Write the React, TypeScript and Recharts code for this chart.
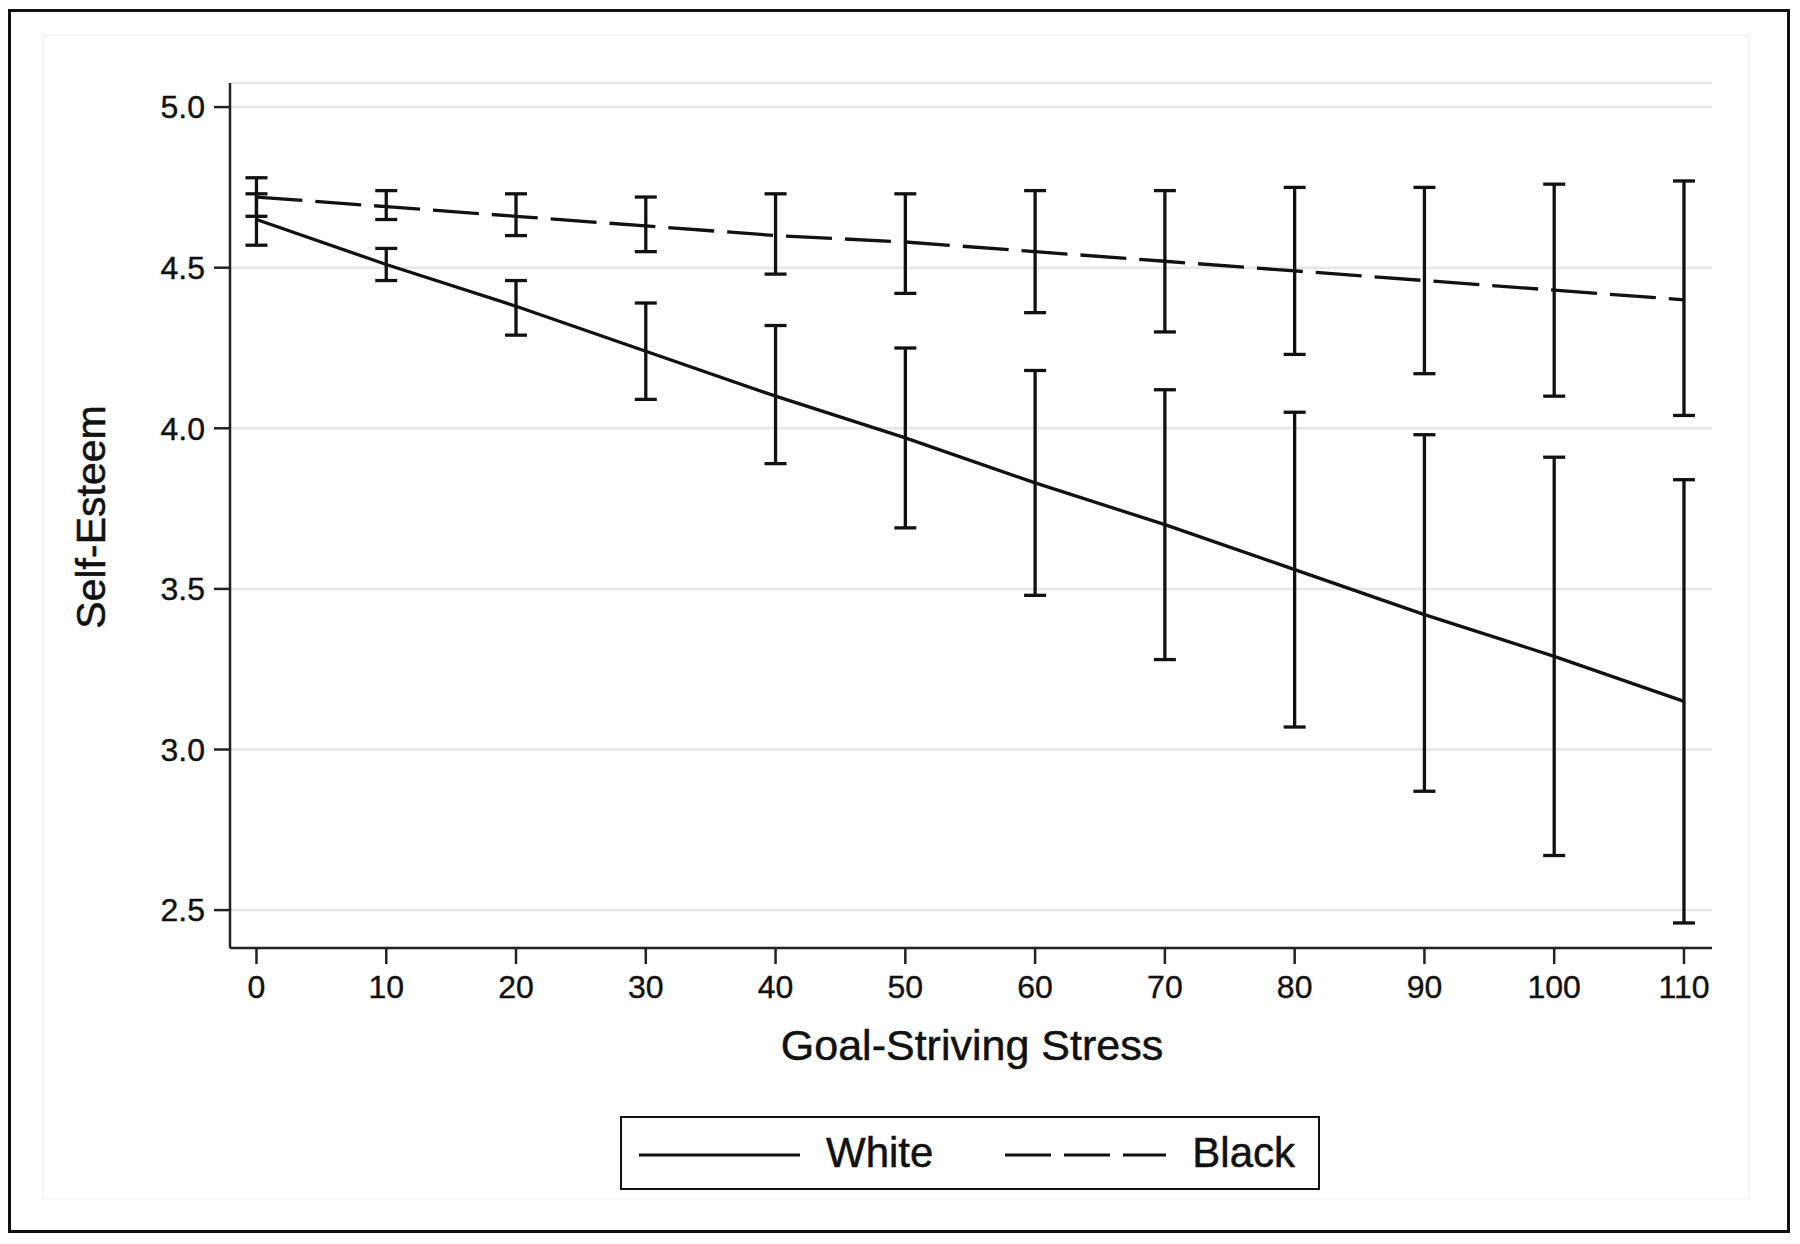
import { LineChart, Line, XAxis, YAxis, CartesianGrid, ErrorBar, Legend, Label } from 'recharts';

const FONT = '"Liberation Sans", Arial, Helvetica, sans-serif';
const INK = '#111';

// Goal-striving stress levels (x axis)
const stressLevels = [0, 10, 20, 30, 40, 50, 60, 70, 80, 90, 100, 110];

// Predicted self-esteem with 95% CI, White respondents
const whiteMean = [4.65, 4.51, 4.38, 4.24, 4.1, 3.97, 3.83, 3.7, 3.56, 3.42, 3.29, 3.15];
const whiteLow = [4.57, 4.46, 4.29, 4.09, 3.89, 3.69, 3.48, 3.28, 3.07, 2.87, 2.67, 2.46];
const whiteHigh = [4.73, 4.56, 4.46, 4.39, 4.32, 4.25, 4.18, 4.12, 4.05, 3.98, 3.91, 3.84];

// Predicted self-esteem with 95% CI, Black respondents
const blackMean = [4.72, 4.69, 4.66, 4.63, 4.6, 4.58, 4.55, 4.52, 4.49, 4.46, 4.43, 4.4];
const blackLow = [4.66, 4.65, 4.6, 4.55, 4.48, 4.42, 4.36, 4.3, 4.23, 4.17, 4.1, 4.04];
const blackHigh = [4.78, 4.74, 4.73, 4.72, 4.73, 4.73, 4.74, 4.74, 4.75, 4.75, 4.76, 4.77];

const yTicks = [2.5, 3.0, 3.5, 4.0, 4.5, 5.0];
const xTicks = stressLevels;

const legendItems = [
  { name: 'White', dash: undefined as string | undefined },
  { name: 'Black', dash: '46 13' },
];

const data = stressLevels.map((x, i) => ({
  x,
  white: whiteMean[i],
  whiteErr: [whiteMean[i] - whiteLow[i], whiteHigh[i] - whiteMean[i]],
  black: blackMean[i],
  blackErr: [blackMean[i] - blackLow[i], blackHigh[i] - blackMean[i]],
}));

function LegendBox() {
  return (
    <div
      style={{
        width: 700,
        height: 74,
        boxSizing: 'border-box',
        border: `2px solid ${INK}`,
        background: '#fff',
        display: 'flex',
        alignItems: 'center',
        paddingLeft: 17,
        fontFamily: FONT,
        fontSize: 42,
        color: INK,
        WebkitTextStroke: '0.5px #111',
      }}
    >
      {legendItems.map((item, i) => (
        <div key={item.name} style={{ display: 'flex', alignItems: 'center', marginLeft: i === 0 ? 0 : 72 }}>
          <svg width={161} height={10} style={{ display: 'block', marginTop: 4 }}>
            <line x1={0} y1={5} x2={161} y2={5} stroke={INK} strokeWidth={3.2} strokeDasharray={item.dash} />
          </svg>
          <span style={{ marginLeft: 26, lineHeight: 1 }}>{item.name}</span>
        </div>
      ))}
    </div>
  );
}

export default function App() {
  const tickStyle = { fontFamily: FONT, fontSize: 32, fill: INK, stroke: INK, strokeWidth: 0.4 };
  return (
    <div style={{ position: 'relative', width: 1800, height: 1244, background: '#fff' }}>
      <style>{'body{margin:0;}'}</style>
      {/* outer frame */}
      <div
        style={{
          position: 'absolute',
          left: 8,
          top: 9,
          width: 1782,
          height: 1224,
          boxSizing: 'border-box',
          border: `3px solid ${INK}`,
        }}
      />
      {/* faint graph region */}
      <div
        style={{
          position: 'absolute',
          left: 42,
          top: 34,
          width: 1708,
          height: 1166,
          boxSizing: 'border-box',
          border: '2px solid #f6f6f6',
        }}
      />
      <div style={{ position: 'absolute', left: 0, top: 0 }}>
        <LineChart width={1800} height={1244} data={data} margin={{ top: 83, right: 88, bottom: 196, left: 120 }}>
          <CartesianGrid horizontal vertical={false} stroke="#e6e6e6" strokeWidth={2.5} />
          <XAxis
            type="number"
            dataKey="x"
            domain={[-2.04, 112.16]}
            ticks={xTicks}
            allowDataOverflow
            height={100}
            tickSize={16}
            tickMargin={11}
            tick={tickStyle}
            axisLine={{ stroke: '#222', strokeWidth: 2.5 }}
            tickLine={{ stroke: '#222', strokeWidth: 2.5 }}
          >
            <Label
              content={() => (
                <text
                  x={972}
                  y={1060}
                  textAnchor="middle"
                  fontFamily={FONT}
                  fontSize={43}
                  fill={INK}
                  stroke={INK}
                  strokeWidth={0.5}
                >
                  Goal-Striving Stress
                </text>
              )}
            />
          </XAxis>
          <YAxis
            type="number"
            domain={[2.382, 5.075]}
            ticks={yTicks}
            allowDataOverflow
            width={110}
            tickSize={16}
            tickMargin={9}
            tick={tickStyle}
            tickFormatter={(v: number) => v.toFixed(1)}
            axisLine={{ stroke: '#222', strokeWidth: 2.5 }}
            tickLine={{ stroke: '#222', strokeWidth: 2.5 }}
          >
            <Label
              content={() => (
                <text
                  x={105}
                  y={517}
                  transform="rotate(-90, 105, 517)"
                  textAnchor="middle"
                  fontFamily={FONT}
                  fontSize={41}
                  fill={INK}
                  stroke={INK}
                  strokeWidth={0.5}
                >
                  Self-Esteem
                </text>
              )}
            />
          </YAxis>
          <Line
            type="linear"
            dataKey="white"
            name="White"
            stroke={INK}
            strokeWidth={3.3}
            dot={false}
            activeDot={false}
            isAnimationActive={false}
          >
            <ErrorBar dataKey="whiteErr" direction="y" width={11} stroke={INK} strokeWidth={3.3} />
          </Line>
          <Line
            type="linear"
            dataKey="black"
            name="Black"
            stroke={INK}
            strokeWidth={3.3}
            strokeDasharray="46 13"
            dot={false}
            activeDot={false}
            isAnimationActive={false}
          >
            <ErrorBar dataKey="blackErr" direction="y" width={11} stroke={INK} strokeWidth={3.3} />
          </Line>
          <Legend
            layout="horizontal"
            verticalAlign="middle"
            align="center"
            wrapperStyle={{ left: 620, top: 1116, width: 700, height: 74 }}
            content={() => <LegendBox />}
          />
        </LineChart>
      </div>
    </div>
  );
}
